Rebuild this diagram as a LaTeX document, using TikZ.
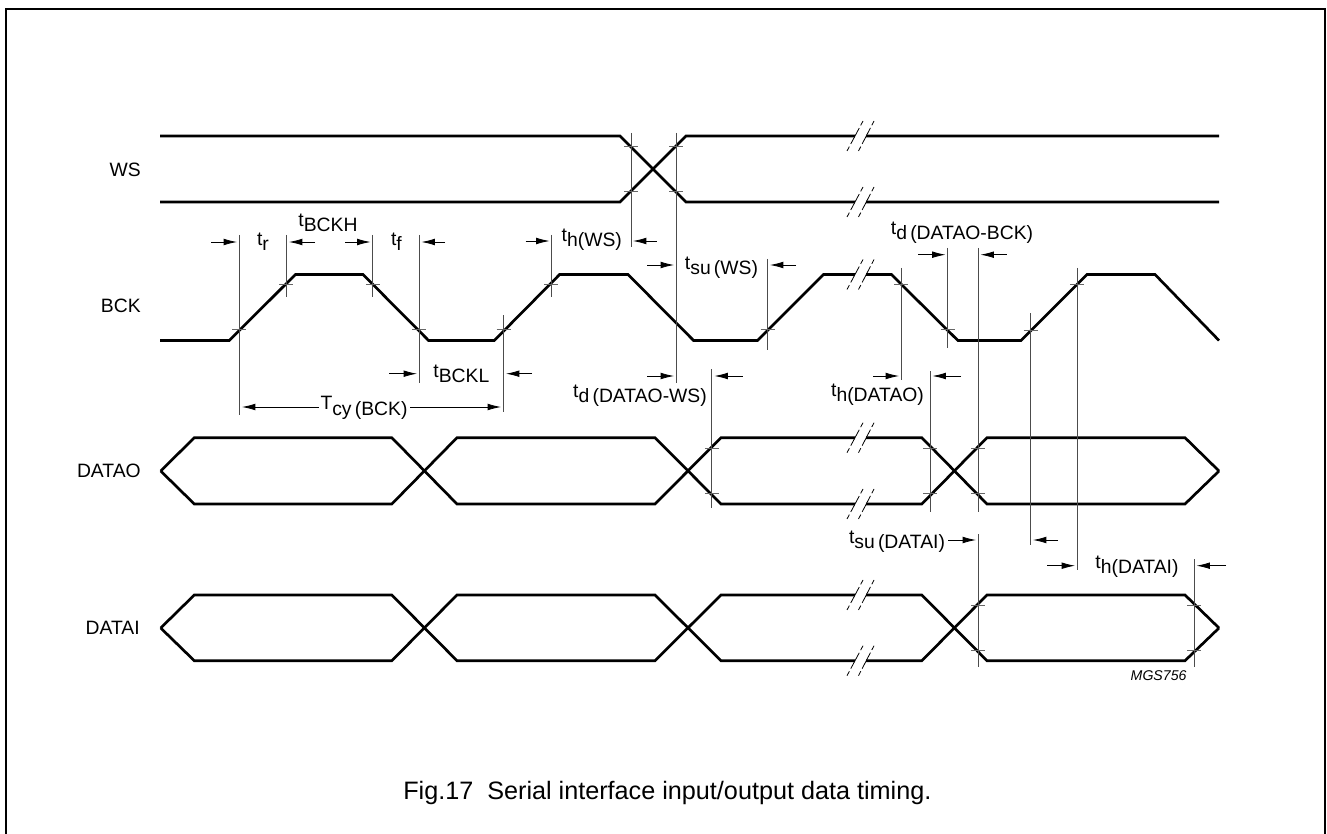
\documentclass[tikz,border=0pt]{standalone}
\usepackage{fontspec}
\setmainfont{Liberation Sans}
\usetikzlibrary{arrows.meta}
\newcommand{\tsub}[2]{#1\raisebox{-0.28em}{#2}}
\tikzset{
    signal/.style={line width=2pt, line join=miter},
    guide/.style={line width=0.7pt, black!70},
    tickmark/.style={line width=0.5pt, black!60},
    timearrow/.style={-{Latex[length=10pt,width=5pt]}, line width=0.6pt},
    lab/.style={inner sep=0pt, font=\fontsize{14.5}{16}\selectfont},
    breakmark/.pic={
        \fill[white] (-5.5,-3.5) rectangle (5.5,3.5);
        \draw[line width=0.6pt, dash pattern=on 3.75pt off 2.25pt on 13.5pt off 2.25pt on 3.75pt]
            (-13.5,15) -- (2.5,-15) (-2,15) -- (13.5,-15);
    }
}
\begin{document}
\begin{tikzpicture}[x=0.75pt, y=-0.75pt]
    \useasboundingbox (0,0) rectangle (1327,834);
    %frame
    \draw[line width=1.5pt] (6,834) -- (6,9) -- (1325,9) -- (1325,834);

    %signals
    \draw[signal] (160,136) -- (620,136) -- (686,202) -- (1219,202);
    \draw[signal] (160,202) -- (620,202) -- (686,136) -- (1219,136);
    \draw[signal] (160,340.5) -- (229.3,340.5) -- (295.4,274.5) -- (363,274.5) -- (428.6,340.5)
        -- (494.3,340.5) -- (559.6,274.5) -- (628,274.5) -- (693.6,340.5) -- (757.5,340.5)
        -- (823.6,274.5) -- (891.4,274.5) -- (957.9,340.5) -- (1021,340.5) -- (1087,274.5)
        -- (1155,274.5) -- (1219,340.5);
    \draw[signal] (160.7,471) -- (194.3,437.7) -- (391.8,437.7) -- (457,504) -- (655,504)
        -- (721,437.7) -- (921.8,437.7) -- (987,504) -- (1185,504) -- (1219,471);
    \draw[signal] (160.7,471) -- (194.3,504) -- (391.8,504) -- (457,437.7) -- (655,437.7)
        -- (721,504) -- (921.8,504) -- (987,437.7) -- (1185,437.7) -- (1219,471);
    \draw[signal] (160.7,628) -- (194.3,595) -- (391.8,595) -- (457,660.7) -- (655,660.7)
        -- (721,595) -- (921.8,595) -- (987,660.7) -- (1185,660.7) -- (1219,628);
    \draw[signal] (160.7,628) -- (194.3,660.7) -- (391.8,660.7) -- (457,595) -- (655,595)
        -- (721,660.7) -- (921.8,660.7) -- (987,595) -- (1185,595) -- (1219,628);

    %breaks
    \path (860.5,136) pic{breakmark} (860.5,202) pic{breakmark} (860.5,274.5) pic{breakmark}
        (860.5,437.7) pic{breakmark} (860.5,504) pic{breakmark}
        (860.5,595) pic{breakmark} (860.5,660.7) pic{breakmark};

    %guides
    \draw[guide] (631,133) -- (631,247)  (676,133) -- (676,383);
    \draw[guide] (239.3,235) -- (239.3,415)  (286.4,235) -- (286.4,297)
        (372.9,235) -- (372.9,297)  (419.3,235) -- (419.3,383)
        (503.6,315) -- (503.6,411.7)  (551.4,235) -- (551.4,297);
    \draw[guide] (767.5,259) -- (767.5,350)  (711.8,369) -- (711.8,508)
        (901.4,268) -- (901.4,380)  (930,371) -- (930,511.7)
        (947.5,248) -- (947.5,348)  (978,248) -- (978,511.7);
    \draw[guide] (1030.7,313) -- (1030.7,545)  (1077,268) -- (1077,570)
        (1194,559) -- (1194,666.7)  (978,534) -- (978,666.7);

    %ticks
    \draw[tickmark] (631,146.5) +(-7,0) -- +(7,0)  (631,191.5) +(-7,0) -- +(7,0)
        (676,146.5) +(-7,0) -- +(7,0)  (676,191.5) +(-7,0) -- +(7,0);
    \draw[tickmark] (239.3,329) +(-7,0) -- +(7,0)  (286.4,284) +(-7,0) -- +(7,0)
        (372.9,284) +(-7,0) -- +(7,0)  (419.3,329) +(-7,0) -- +(7,0)
        (503.6,329) +(-7,0) -- +(7,0)  (551.4,284) +(-7,0) -- +(7,0)
        (767.5,329) +(-7,0) -- +(7,0)  (901.4,284) +(-7,0) -- +(7,0)
        (947.5,329) +(-7,0) -- +(7,0)  (1030.7,330) +(-7,0) -- +(7,0)
        (1077,284) +(-7,0) -- +(7,0);
    \draw[tickmark] (711.8,448) +(-7,0) -- +(7,0)  (711.8,493) +(-7,0) -- +(7,0)
        (930,448) +(-7,0) -- +(7,0)  (930,493) +(-7,0) -- +(7,0)
        (978,448) +(-7,0) -- +(7,0)  (978,493) +(-7,0) -- +(7,0);
    \draw[tickmark] (978,605) +(-7,0) -- +(7,0)  (978,650) +(-7,0) -- +(7,0)
        (1194,605) +(-7,0) -- +(7,0)  (1194,650) +(-7,0) -- +(7,0);

    %arrows
    \draw[timearrow] (211,242) -- (237,242);
    \draw[timearrow] (315,242) -- (289,242);
    \draw[timearrow] (345,242) -- (370.5,242);
    \draw[timearrow] (445,242) -- (421.5,242);
    \draw[timearrow] (525.7,241) -- (549.5,241);
    \draw[timearrow] (656.8,241) -- (633,241);
    \draw[timearrow] (647,265) -- (674,265);
    \draw[timearrow] (796,265) -- (770,265);
    \draw[timearrow] (389,373.7) -- (417,373.7);
    \draw[timearrow] (532,373.7) -- (506,373.7);
    \draw[timearrow] (318.6,407) -- (242,407);
    \draw[timearrow] (410,407) -- (501,407);
    \draw[timearrow] (647,376) -- (674,376);
    \draw[timearrow] (742.5,376) -- (714.5,376);
    \draw[timearrow] (873,376) -- (899,376);
    \draw[timearrow] (961,376) -- (932.5,376);
    \draw[timearrow] (918,254.7) -- (945.5,254.7);
    \draw[timearrow] (1006.8,254.7) -- (980.5,254.7);
    \draw[timearrow] (948,540) -- (976,540);
    \draw[timearrow] (1058,540) -- (1033,540);
    \draw[timearrow] (1047,565.7) -- (1075,565.7);
    \draw[timearrow] (1226,565.7) -- (1196.5,565.7);

    %labels
    \node[lab, anchor=east] (ws) at (141,170) {WS};
    \node[lab, anchor=east] (bck) at (141,306) {BCK};
    \node[lab, anchor=east] (datao) at (141,471) {DATAO};
    \node[lab, anchor=east] (datai) at (140,628) {DATAI};

    \node[lab] (tr) at (263,241.7) {\tsub{t}{r}};
    \node[lab] (tbckh) at (328,223) {\tsub{t}{BCKH}};
    \node[lab] (tf) at (396.4,241.7) {\tsub{t}{f}};
    \node[lab] (thws) at (591.8,240) {\tsub{t}{h(WS)}};
    \node[lab] (tbckl) at (461.4,374) {\tsub{t}{BCKL}};
    \node[lab] (tcy) at (364,408) {\tsub{T}{cy\,(BCK)}};
    \node[lab] (tdws) at (640,396) {\tsub{t}{d\,(DATAO-WS)}};
    \node[lab] (tsuws) at (721.5,268) {\tsub{t}{su\,(WS)}};
    \node[lab] (tdbck) at (962,233) {\tsub{t}{d\,(DATAO-BCK)}};
    \node[lab] (thdo) at (877.5,395) {\tsub{t}{h(DATAO)}};
    \node[lab] (tsudi) at (897,541.7) {\tsub{t}{su\,(DATAI)}};
    \node[lab] (thdi) at (1137,566.7) {\tsub{t}{h(DATAI)}};
    \node[inner sep=0pt, font=\fontsize{10.6}{12}\selectfont\itshape] (code) at (1158.6,676) {MGS756};
    \node[inner sep=0pt, anchor=base west, font=\fontsize{18.9}{21}\selectfont] (caption) at (403,799) {Fig.17\ \ Serial interface input/output data timing.};
\end{tikzpicture}
\end{document}
